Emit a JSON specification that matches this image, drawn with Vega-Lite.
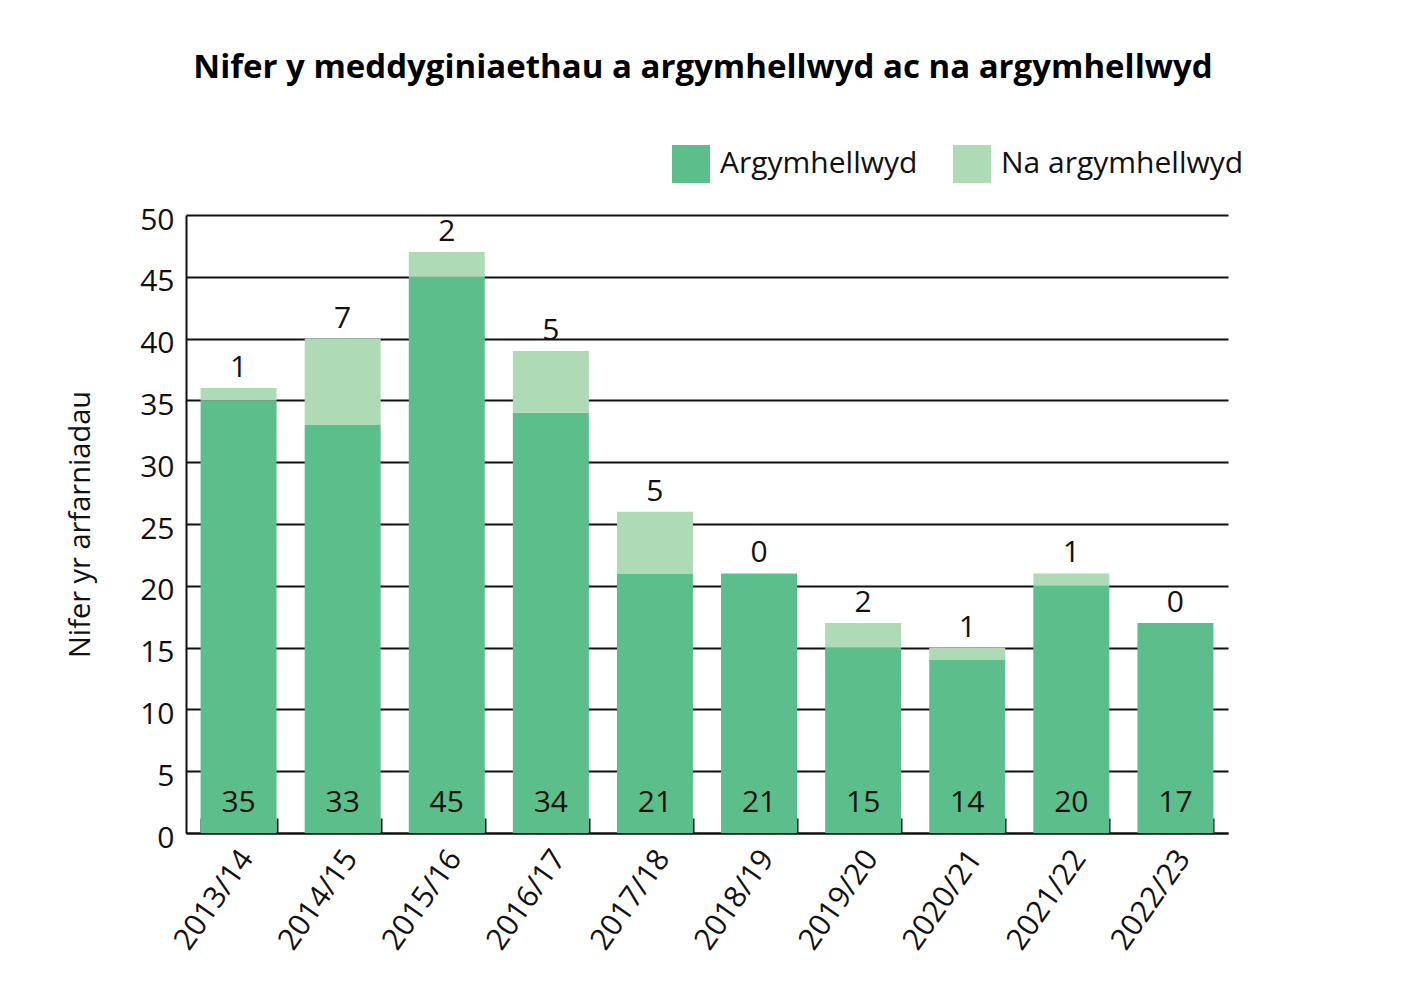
{
  "$schema": "https://vega.github.io/schema/vega-lite/v6.json",
  "width": 1042,
  "height": 618,
  "autosize": {"type": "none"},
  "padding": {"left": 186, "top": 215, "right": 177, "bottom": 168},
  "background": "white",
  "config": {
    "font": "Open Sans",
    "view": {"stroke": null},
    "axis": {"labelColor": "#111111", "titleColor": "#111111", "labelFont": "Open Sans", "titleFont": "Open Sans"},
    "legend": {"labelFont": "Open Sans"}
  },
  "title": {
    "text": "Nifer y meddyginiaethau a argymhellwyd ac na argymhellwyd",
    "fontSize": 33,
    "fontWeight": "bold",
    "font": "Open Sans",
    "color": "#000000",
    "anchor": "middle",
    "frame": "group",
    "dx": -4,
    "offset": 60
  },
  "data": {
    "values": [
      {"year": "2013/14", "type": "Argymhellwyd", "value": 35},
      {"year": "2013/14", "type": "Na argymhellwyd", "value": 1},
      {"year": "2014/15", "type": "Argymhellwyd", "value": 33},
      {"year": "2014/15", "type": "Na argymhellwyd", "value": 7},
      {"year": "2015/16", "type": "Argymhellwyd", "value": 45},
      {"year": "2015/16", "type": "Na argymhellwyd", "value": 2},
      {"year": "2016/17", "type": "Argymhellwyd", "value": 34},
      {"year": "2016/17", "type": "Na argymhellwyd", "value": 5},
      {"year": "2017/18", "type": "Argymhellwyd", "value": 21},
      {"year": "2017/18", "type": "Na argymhellwyd", "value": 5},
      {"year": "2018/19", "type": "Argymhellwyd", "value": 21},
      {"year": "2018/19", "type": "Na argymhellwyd", "value": 0},
      {"year": "2019/20", "type": "Argymhellwyd", "value": 15},
      {"year": "2019/20", "type": "Na argymhellwyd", "value": 2},
      {"year": "2020/21", "type": "Argymhellwyd", "value": 14},
      {"year": "2020/21", "type": "Na argymhellwyd", "value": 1},
      {"year": "2021/22", "type": "Argymhellwyd", "value": 20},
      {"year": "2021/22", "type": "Na argymhellwyd", "value": 1},
      {"year": "2022/23", "type": "Argymhellwyd", "value": 17},
      {"year": "2022/23", "type": "Na argymhellwyd", "value": 0}
    ]
  },
  "transform": [
    {"stack": "value", "groupby": ["year"], "sort": [{"field": "type", "order": "ascending"}], "as": ["v0", "v1"]}
  ],
  "encoding": {
    "x": {
      "field": "year",
      "type": "nominal",
      "scale": {"paddingInner": 0.27, "paddingOuter": 0.14},
      "axis": {
        "title": null,
        "labelAngle": -55,
        "labelAlign": "right",
        "labelBaseline": "middle",
        "labelFontSize": 30,
        "labelPadding": 35,
        "labelOffset": 8,
        "tickBand": "extent",
        "tickSize": -15,
        "tickWidth": 2,
        "tickColor": "#111111",
        "domainColor": "#111111",
        "domainWidth": 2,
        "grid": false
      }
    }
  },
  "layer": [
    {
      "mark": {"type": "bar"},
      "encoding": {
        "y": {
          "field": "v0",
          "type": "quantitative",
          "scale": {"domain": [0, 50], "nice": false},
          "axis": {
            "title": "Nifer yr arfarniadau",
            "titleFontSize": 29,
            "titleFontWeight": "normal",
            "titlePadding": 44,
            "values": [0, 5, 10, 15, 20, 25, 30, 35, 40, 45, 50],
            "labelFontSize": 30,
            "labelPadding": 12,
            "labelOffset": 5,
            "ticks": false,
            "grid": true,
            "gridColor": "#111111",
            "gridWidth": 1.8,
            "domainColor": "#111111",
            "domainWidth": 2
          }
        },
        "y2": {"field": "v1"},
        "color": {
          "field": "type",
          "type": "nominal",
          "scale": {"domain": ["Argymhellwyd", "Na argymhellwyd"], "range": ["#5cbf8b", "#aedab5"]},
          "legend": {
            "title": null,
            "orient": "none",
            "direction": "horizontal",
            "legendX": 486,
            "legendY": -70,
            "symbolType": "square",
            "symbolSize": 1444,
            "symbolStrokeWidth": 0,
            "symbolOpacity": 1,
            "labelFontSize": 30,
            "labelLimit": 0,
            "labelColor": "#111111",
            "labelOffset": 10,
            "columnPadding": 35
          }
        }
      }
    },
    {
      "transform": [{"filter": "datum.type === 'Argymhellwyd'"}],
      "mark": {"type": "text", "fontSize": 30, "color": "#111111", "baseline": "alphabetic", "dy": -21},
      "encoding": {
        "y": {"datum": 0, "type": "quantitative"},
        "text": {"field": "value", "type": "quantitative"}
      }
    },
    {
      "transform": [{"filter": "datum.type === 'Na argymhellwyd'"}],
      "mark": {"type": "text", "fontSize": 30, "color": "#111111", "baseline": "alphabetic", "dy": -11},
      "encoding": {
        "y": {"field": "v1", "type": "quantitative"},
        "text": {"field": "value", "type": "quantitative"}
      }
    }
  ]
}
